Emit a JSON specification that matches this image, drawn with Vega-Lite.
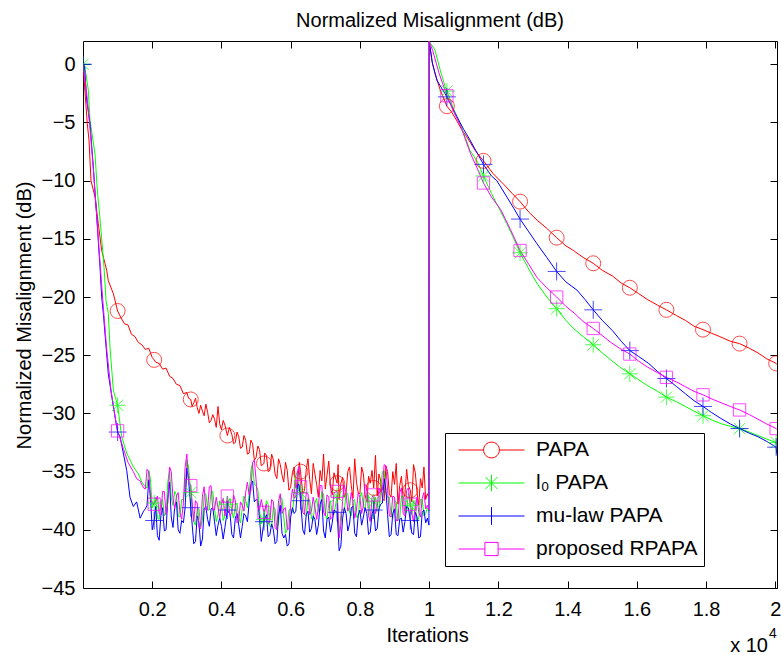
{
"$schema": "https://vega.github.io/schema/vega-lite/v6.json",
"autosize": {"type": "none"},
"padding": {"left": 83, "top": 41, "right": 4, "bottom": 67},
"width": 694,
"height": 547,
"background": "white",
"config": {
  "font": "Liberation Sans",
  "view": {"stroke": "black", "strokeWidth": 1},
  "axis": {"domain": false, "grid": false, "tickColor": "black", "tickSize": -7, "labelColor": "black", "titleColor": "black", "labelFont": "Liberation Sans", "titleFont": "Liberation Sans", "labelFontSize": 20, "titleFontSize": 20, "titleFontWeight": "normal"}
},
"title": {"text": "Normalized Misalignment (dB)", "fontSize": 20, "fontWeight": "normal", "font": "Liberation Sans", "color": "black", "anchor": "middle", "baseline": "alphabetic", "offset": 15, "dy": 21},
"datasets": {
"d": [
{"s":"PAPA","x":0,"y":0},{"s":"PAPA","x":124,"y":-5.1},{"s":"PAPA","x":173,"y":-6.5},{"s":"PAPA","x":231,"y":-10.0},{"s":"PAPA","x":347,"y":-11.4},{"s":"PAPA","x":442,"y":-13.7},{"s":"PAPA","x":540,"y":-16.0},{"s":"PAPA","x":685,"y":-17.7},{"s":"PAPA","x":731,"y":-18.6},{"s":"PAPA","x":876,"y":-19.7},
{"s":"PAPA","x":1000,"y":-21.2,"m":1},{"s":"PAPA","x":1100,"y":-21.8},{"s":"PAPA","x":1200,"y":-22.3},{"s":"PAPA","x":1300,"y":-22.4},{"s":"PAPA","x":1400,"y":-23.2},{"s":"PAPA","x":1500,"y":-23.4},{"s":"PAPA","x":1600,"y":-23.9},{"s":"PAPA","x":1700,"y":-24.1},{"s":"PAPA","x":1800,"y":-24.5},{"s":"PAPA","x":1900,"y":-24.4},{"s":"PAPA","x":2000,"y":-25.2},{"s":"PAPA","x":2057,"y":-25.4,"m":1},{"s":"PAPA","x":2100,"y":-25.6},{"s":"PAPA","x":2200,"y":-25.7},{"s":"PAPA","x":2300,"y":-26.2},{"s":"PAPA","x":2400,"y":-26.1},{"s":"PAPA","x":2500,"y":-26.8},{"s":"PAPA","x":2600,"y":-27.0},{"s":"PAPA","x":2700,"y":-27.5},{"s":"PAPA","x":2800,"y":-27.6},{"s":"PAPA","x":2900,"y":-28.3},
{"s":"PAPA","x":3000,"y":-28.2},{"s":"PAPA","x":3050,"y":-28.7},{"s":"PAPA","x":3114,"y":-28.8,"m":1},{"s":"PAPA","x":3150,"y":-29.4},{"s":"PAPA","x":3200,"y":-29.1},{"s":"PAPA","x":3250,"y":-28.7},{"s":"PAPA","x":3300,"y":-29.5},{"s":"PAPA","x":3350,"y":-30.0},{"s":"PAPA","x":3400,"y":-29.3},{"s":"PAPA","x":3450,"y":-29.8},{"s":"PAPA","x":3500,"y":-30.2},{"s":"PAPA","x":3550,"y":-29.2},{"s":"PAPA","x":3600,"y":-29.9},{"s":"PAPA","x":3650,"y":-30.8},{"s":"PAPA","x":3700,"y":-30.6},{"s":"PAPA","x":3750,"y":-30.1},{"s":"PAPA","x":3800,"y":-30.5},{"s":"PAPA","x":3850,"y":-31.2},{"s":"PAPA","x":3900,"y":-29.4},{"s":"PAPA","x":3950,"y":-30.9},{"s":"PAPA","x":4000,"y":-31.4},{"s":"PAPA","x":4050,"y":-30.6},{"s":"PAPA","x":4100,"y":-31.0},{"s":"PAPA","x":4171,"y":-31.9,"m":1},{"s":"PAPA","x":4230,"y":-31.2},{"s":"PAPA","x":4300,"y":-31.8},{"s":"PAPA","x":4350,"y":-32.6},{"s":"PAPA","x":4400,"y":-32.5},{"s":"PAPA","x":4450,"y":-31.6},{"s":"PAPA","x":4500,"y":-32.0},{"s":"PAPA","x":4550,"y":-33.0},{"s":"PAPA","x":4600,"y":-32.9},{"s":"PAPA","x":4650,"y":-31.9},{"s":"PAPA","x":4700,"y":-32.3},{"s":"PAPA","x":4750,"y":-33.5},{"s":"PAPA","x":4800,"y":-33.4},{"s":"PAPA","x":4850,"y":-32.3},{"s":"PAPA","x":4900,"y":-32.6},{"s":"PAPA","x":4950,"y":-34.0},
{"s":"PAPA","x":5000,"y":-33.8},{"s":"PAPA","x":5050,"y":-32.8},{"s":"PAPA","x":5100,"y":-33.1},{"s":"PAPA","x":5150,"y":-34.5},{"s":"PAPA","x":5228,"y":-34.3,"m":1},{"s":"PAPA","x":5250,"y":-33.4},{"s":"PAPA","x":5300,"y":-33.6},{"s":"PAPA","x":5350,"y":-35.0},{"s":"PAPA","x":5400,"y":-34.9},{"s":"PAPA","x":5450,"y":-33.5},{"s":"PAPA","x":5500,"y":-34.0},{"s":"PAPA","x":5550,"y":-35.2},{"s":"PAPA","x":5600,"y":-35.6},{"s":"PAPA","x":5650,"y":-33.9},{"s":"PAPA","x":5700,"y":-34.4},{"s":"PAPA","x":5750,"y":-35.3},{"s":"PAPA","x":5800,"y":-35.9},{"s":"PAPA","x":5850,"y":-34.2},{"s":"PAPA","x":5900,"y":-34.9},{"s":"PAPA","x":5950,"y":-36.6},{"s":"PAPA","x":6000,"y":-36.3},{"s":"PAPA","x":6050,"y":-35.1},{"s":"PAPA","x":6100,"y":-34.6},{"s":"PAPA","x":6150,"y":-36.4},{"s":"PAPA","x":6200,"y":-36.0},{"s":"PAPA","x":6250,"y":-34.2},{"s":"PAPA","x":6285,"y":-35.0,"m":1},{"s":"PAPA","x":6350,"y":-36.9},{"s":"PAPA","x":6400,"y":-36.6},{"s":"PAPA","x":6450,"y":-34.8},{"s":"PAPA","x":6500,"y":-33.9},{"s":"PAPA","x":6550,"y":-35.7},{"s":"PAPA","x":6600,"y":-36.9},{"s":"PAPA","x":6650,"y":-34.3},{"s":"PAPA","x":6700,"y":-35.2},{"s":"PAPA","x":6750,"y":-36.1},{"s":"PAPA","x":6800,"y":-37.2},{"s":"PAPA","x":6850,"y":-34.9},{"s":"PAPA","x":6900,"y":-35.8},{"s":"PAPA","x":6950,"y":-33.5},{"s":"PAPA","x":7000,"y":-36.5},{"s":"PAPA","x":7050,"y":-35.3},{"s":"PAPA","x":7100,"y":-34.1},{"s":"PAPA","x":7150,"y":-36.3},{"s":"PAPA","x":7200,"y":-37.0},{"s":"PAPA","x":7250,"y":-35.1},{"s":"PAPA","x":7342,"y":-36.0,"m":1},{"s":"PAPA","x":7370,"y":-34.4},{"s":"PAPA","x":7400,"y":-37.4},{"s":"PAPA","x":7450,"y":-36.0},{"s":"PAPA","x":7500,"y":-35.5},{"s":"PAPA","x":7550,"y":-37.2},{"s":"PAPA","x":7600,"y":-36.8},{"s":"PAPA","x":7650,"y":-35.0},{"s":"PAPA","x":7700,"y":-34.6},{"s":"PAPA","x":7750,"y":-36.2},{"s":"PAPA","x":7800,"y":-37.3},{"s":"PAPA","x":7850,"y":-33.9},{"s":"PAPA","x":7900,"y":-35.9},{"s":"PAPA","x":7950,"y":-36.8},{"s":"PAPA","x":8000,"y":-36.9},{"s":"PAPA","x":8050,"y":-34.6},{"s":"PAPA","x":8100,"y":-35.2},{"s":"PAPA","x":8150,"y":-37.0},{"s":"PAPA","x":8200,"y":-37.6},{"s":"PAPA","x":8250,"y":-35.4},{"s":"PAPA","x":8300,"y":-36.0},{"s":"PAPA","x":8350,"y":-34.9},{"s":"PAPA","x":8399,"y":-36.4,"m":1},{"s":"PAPA","x":8450,"y":-33.6},{"s":"PAPA","x":8500,"y":-37.1},{"s":"PAPA","x":8550,"y":-35.2},{"s":"PAPA","x":8600,"y":-35.8},{"s":"PAPA","x":8650,"y":-37.3},{"s":"PAPA","x":8700,"y":-37.5},{"s":"PAPA","x":8750,"y":-34.5},{"s":"PAPA","x":8800,"y":-35.0},{"s":"PAPA","x":8850,"y":-36.9},{"s":"PAPA","x":8900,"y":-37.2},{"s":"PAPA","x":8950,"y":-35.0},{"s":"PAPA","x":9000,"y":-36.1},{"s":"PAPA","x":9050,"y":-34.3},{"s":"PAPA","x":9100,"y":-37.8},{"s":"PAPA","x":9150,"y":-36.2},{"s":"PAPA","x":9200,"y":-35.4},{"s":"PAPA","x":9250,"y":-37.3},{"s":"PAPA","x":9300,"y":-37.0},{"s":"PAPA","x":9350,"y":-34.8},{"s":"PAPA","x":9400,"y":-36.2},{"s":"PAPA","x":9456,"y":-36.6,"m":1},{"s":"PAPA","x":9500,"y":-37.6},{"s":"PAPA","x":9550,"y":-34.4},{"s":"PAPA","x":9600,"y":-35.1},{"s":"PAPA","x":9650,"y":-36.8},{"s":"PAPA","x":9700,"y":-37.9},{"s":"PAPA","x":9750,"y":-35.6},{"s":"PAPA","x":9800,"y":-36.4},{"s":"PAPA","x":9850,"y":-34.6},{"s":"PAPA","x":9900,"y":-37.4},{"s":"PAPA","x":9950,"y":-36.9},{"s":"PAPA","x":9990,"y":-37.2},
{"s":"PAPA","x":10000,"y":2.0},{"s":"PAPA","x":10080,"y":0.3},{"s":"PAPA","x":10170,"y":-0.8},{"s":"PAPA","x":10320,"y":-2.2},{"s":"PAPA","x":10513,"y":-3.6,"m":1},{"s":"PAPA","x":10650,"y":-4.1},{"s":"PAPA","x":10790,"y":-4.8},{"s":"PAPA","x":10940,"y":-5.6},{"s":"PAPA","x":11080,"y":-6.2},{"s":"PAPA","x":11330,"y":-7.4},{"s":"PAPA","x":11570,"y":-8.3,"m":1},{"s":"PAPA","x":11850,"y":-9.4},{"s":"PAPA","x":12150,"y":-10.3},{"s":"PAPA","x":12400,"y":-11.1},{"s":"PAPA","x":12627,"y":-11.8,"m":1},{"s":"PAPA","x":12880,"y":-12.7},{"s":"PAPA","x":13120,"y":-13.4},{"s":"PAPA","x":13400,"y":-14.1},{"s":"PAPA","x":13684,"y":-14.9,"m":1},{"s":"PAPA","x":13950,"y":-15.6},{"s":"PAPA","x":14170,"y":-16.0},{"s":"PAPA","x":14450,"y":-16.6},{"s":"PAPA","x":14741,"y":-17.1,"m":1},{"s":"PAPA","x":15000,"y":-17.7},{"s":"PAPA","x":15300,"y":-18.2},{"s":"PAPA","x":15550,"y":-18.8},{"s":"PAPA","x":15798,"y":-19.2,"m":1},{"s":"PAPA","x":16050,"y":-19.7},{"s":"PAPA","x":16300,"y":-20.2},{"s":"PAPA","x":16600,"y":-20.7},{"s":"PAPA","x":16855,"y":-21.1,"m":1},{"s":"PAPA","x":17150,"y":-21.6},{"s":"PAPA","x":17400,"y":-22.0},{"s":"PAPA","x":17650,"y":-22.5},{"s":"PAPA","x":17912,"y":-22.8,"m":1},{"s":"PAPA","x":18150,"y":-23.1},{"s":"PAPA","x":18400,"y":-23.4},{"s":"PAPA","x":18700,"y":-23.8},{"s":"PAPA","x":18969,"y":-24.0,"m":1},{"s":"PAPA","x":19250,"y":-24.4},{"s":"PAPA","x":19500,"y":-24.8},{"s":"PAPA","x":19750,"y":-25.3},{"s":"PAPA","x":20026,"y":-25.7,"m":1},{"s":"PAPA","x":20050,"y":-25.8},

{"s":"l₀ PAPA","x":0,"y":0,"m":1},{"s":"l₀ PAPA","x":40,"y":0},{"s":"l₀ PAPA","x":153,"y":-2.2},{"s":"l₀ PAPA","x":202,"y":-4.8},{"s":"l₀ PAPA","x":347,"y":-7.7},{"s":"l₀ PAPA","x":413,"y":-10.8},{"s":"l₀ PAPA","x":512,"y":-14.0},{"s":"l₀ PAPA","x":607,"y":-17.4},{"s":"l₀ PAPA","x":665,"y":-20.3},{"s":"l₀ PAPA","x":731,"y":-21.4},{"s":"l₀ PAPA","x":780,"y":-24.3},{"s":"l₀ PAPA","x":876,"y":-28.0},{"s":"l₀ PAPA","x":1000,"y":-29.3,"m":1},{"s":"l₀ PAPA","x":1118,"y":-32.0},{"s":"l₀ PAPA","x":1263,"y":-33.4},{"s":"l₀ PAPA","x":1454,"y":-34.6},{"s":"l₀ PAPA","x":1600,"y":-35.2},{"s":"l₀ PAPA","x":1700,"y":-35.9},
{"s":"l₀ PAPA","x":1800,"y":-36.3},{"s":"l₀ PAPA","x":1900,"y":-34.9},{"s":"l₀ PAPA","x":2000,"y":-38.1},{"s":"l₀ PAPA","x":2057,"y":-37.7,"m":1},{"s":"l₀ PAPA","x":2100,"y":-37.2},{"s":"l₀ PAPA","x":2200,"y":-39.1},{"s":"l₀ PAPA","x":2300,"y":-37.4},{"s":"l₀ PAPA","x":2400,"y":-38.5},{"s":"l₀ PAPA","x":2500,"y":-34.9},{"s":"l₀ PAPA","x":2600,"y":-37.9},{"s":"l₀ PAPA","x":2700,"y":-37.0},{"s":"l₀ PAPA","x":2800,"y":-38.9},{"s":"l₀ PAPA","x":2900,"y":-37.4},{"s":"l₀ PAPA","x":3000,"y":-34.0},{"s":"l₀ PAPA","x":3114,"y":-36.8,"m":1},{"s":"l₀ PAPA","x":3200,"y":-39.3},{"s":"l₀ PAPA","x":3300,"y":-38.2},{"s":"l₀ PAPA","x":3400,"y":-39.7},{"s":"l₀ PAPA","x":3500,"y":-37.0},{"s":"l₀ PAPA","x":3600,"y":-38.3},{"s":"l₀ PAPA","x":3700,"y":-36.7},{"s":"l₀ PAPA","x":3800,"y":-38.2},{"s":"l₀ PAPA","x":3900,"y":-38.7},{"s":"l₀ PAPA","x":4000,"y":-37.9},{"s":"l₀ PAPA","x":4100,"y":-38.8},{"s":"l₀ PAPA","x":4171,"y":-37.8,"m":1},{"s":"l₀ PAPA","x":4300,"y":-38.4},{"s":"l₀ PAPA","x":4400,"y":-37.9},{"s":"l₀ PAPA","x":4500,"y":-39.0},{"s":"l₀ PAPA","x":4600,"y":-38.2},{"s":"l₀ PAPA","x":4700,"y":-37.5},{"s":"l₀ PAPA","x":4800,"y":-37.0},{"s":"l₀ PAPA","x":4900,"y":-34.3},{"s":"l₀ PAPA","x":5000,"y":-36.2},{"s":"l₀ PAPA","x":5100,"y":-38.3},{"s":"l₀ PAPA","x":5228,"y":-39.1,"m":1},{"s":"l₀ PAPA","x":5300,"y":-37.5},{"s":"l₀ PAPA","x":5400,"y":-39.7},{"s":"l₀ PAPA","x":5500,"y":-38.0},{"s":"l₀ PAPA","x":5600,"y":-39.9},{"s":"l₀ PAPA","x":5700,"y":-37.2},{"s":"l₀ PAPA","x":5800,"y":-38.9},{"s":"l₀ PAPA","x":5900,"y":-40.0},{"s":"l₀ PAPA","x":6000,"y":-38.2},{"s":"l₀ PAPA","x":6100,"y":-37.1},{"s":"l₀ PAPA","x":6200,"y":-35.0},{"s":"l₀ PAPA","x":6285,"y":-36.8,"m":1},{"s":"l₀ PAPA","x":6400,"y":-38.7},{"s":"l₀ PAPA","x":6500,"y":-37.3},{"s":"l₀ PAPA","x":6600,"y":-39.0},{"s":"l₀ PAPA","x":6700,"y":-37.7},{"s":"l₀ PAPA","x":6800,"y":-38.4},{"s":"l₀ PAPA","x":6900,"y":-36.7},{"s":"l₀ PAPA","x":7000,"y":-38.7},{"s":"l₀ PAPA","x":7100,"y":-37.8},{"s":"l₀ PAPA","x":7200,"y":-38.7},{"s":"l₀ PAPA","x":7342,"y":-37.1,"m":1},{"s":"l₀ PAPA","x":7400,"y":-40.6},{"s":"l₀ PAPA","x":7500,"y":-38.2},{"s":"l₀ PAPA","x":7600,"y":-36.9},{"s":"l₀ PAPA","x":7700,"y":-38.5},{"s":"l₀ PAPA","x":7800,"y":-37.5},{"s":"l₀ PAPA","x":7900,"y":-38.9},{"s":"l₀ PAPA","x":8000,"y":-37.2},{"s":"l₀ PAPA","x":8100,"y":-38.0},{"s":"l₀ PAPA","x":8200,"y":-36.8},{"s":"l₀ PAPA","x":8300,"y":-39.0},{"s":"l₀ PAPA","x":8399,"y":-37.6,"m":1},{"s":"l₀ PAPA","x":8500,"y":-38.4},{"s":"l₀ PAPA","x":8600,"y":-36.6},{"s":"l₀ PAPA","x":8700,"y":-34.9},{"s":"l₀ PAPA","x":8800,"y":-37.2},{"s":"l₀ PAPA","x":8900,"y":-38.8},{"s":"l₀ PAPA","x":9000,"y":-37.5},{"s":"l₀ PAPA","x":9100,"y":-39.2},{"s":"l₀ PAPA","x":9200,"y":-37.1},{"s":"l₀ PAPA","x":9300,"y":-38.6},{"s":"l₀ PAPA","x":9400,"y":-36.8},{"s":"l₀ PAPA","x":9456,"y":-37.9,"m":1},{"s":"l₀ PAPA","x":9500,"y":-38.7},{"s":"l₀ PAPA","x":9600,"y":-37.9},{"s":"l₀ PAPA","x":9700,"y":-39.0},{"s":"l₀ PAPA","x":9800,"y":-37.4},{"s":"l₀ PAPA","x":9900,"y":-38.6},{"s":"l₀ PAPA","x":9950,"y":-38.1},{"s":"l₀ PAPA","x":9995,"y":-38.4},
{"s":"l₀ PAPA","x":10000,"y":2.0},{"s":"l₀ PAPA","x":10170,"y":1.2},{"s":"l₀ PAPA","x":10320,"y":-0.5},{"s":"l₀ PAPA","x":10460,"y":-1.9},{"s":"l₀ PAPA","x":10513,"y":-2.3,"m":1},{"s":"l₀ PAPA","x":10700,"y":-3.8},{"s":"l₀ PAPA","x":10900,"y":-5.1},{"s":"l₀ PAPA","x":11180,"y":-7.4},{"s":"l₀ PAPA","x":11400,"y":-8.4},{"s":"l₀ PAPA","x":11570,"y":-9.6,"m":1},{"s":"l₀ PAPA","x":11800,"y":-11.1},{"s":"l₀ PAPA","x":11955,"y":-12.0},{"s":"l₀ PAPA","x":12245,"y":-13.7},{"s":"l₀ PAPA","x":12450,"y":-15.0},{"s":"l₀ PAPA","x":12627,"y":-16.2,"m":1},{"s":"l₀ PAPA","x":12880,"y":-17.6},{"s":"l₀ PAPA","x":13110,"y":-18.8},{"s":"l₀ PAPA","x":13400,"y":-20.0},{"s":"l₀ PAPA","x":13684,"y":-21.0,"m":1},{"s":"l₀ PAPA","x":13950,"y":-22.0},{"s":"l₀ PAPA","x":14170,"y":-22.7},{"s":"l₀ PAPA","x":14450,"y":-23.4},{"s":"l₀ PAPA","x":14741,"y":-24.1,"m":1},{"s":"l₀ PAPA","x":15000,"y":-24.8},{"s":"l₀ PAPA","x":15250,"y":-25.4},{"s":"l₀ PAPA","x":15500,"y":-26.0},{"s":"l₀ PAPA","x":15798,"y":-26.6,"m":1},{"s":"l₀ PAPA","x":16050,"y":-27.1},{"s":"l₀ PAPA","x":16300,"y":-27.6},{"s":"l₀ PAPA","x":16600,"y":-28.1},{"s":"l₀ PAPA","x":16855,"y":-28.6,"m":1},{"s":"l₀ PAPA","x":17150,"y":-29.0},{"s":"l₀ PAPA","x":17400,"y":-29.4},{"s":"l₀ PAPA","x":17650,"y":-29.8},{"s":"l₀ PAPA","x":17912,"y":-30.2,"m":1},{"s":"l₀ PAPA","x":18200,"y":-30.6},{"s":"l₀ PAPA","x":18450,"y":-30.9},{"s":"l₀ PAPA","x":18700,"y":-31.1},{"s":"l₀ PAPA","x":18969,"y":-31.3,"m":1},{"s":"l₀ PAPA","x":19250,"y":-31.6},{"s":"l₀ PAPA","x":19500,"y":-31.9},{"s":"l₀ PAPA","x":19750,"y":-32.2},{"s":"l₀ PAPA","x":20026,"y":-32.5,"m":1},{"s":"l₀ PAPA","x":20050,"y":-32.6},

{"s":"mu-law PAPA","x":0,"y":0,"m":1},{"s":"mu-law PAPA","x":40,"y":0},{"s":"mu-law PAPA","x":107,"y":-3.1},{"s":"mu-law PAPA","x":202,"y":-5.1},{"s":"mu-law PAPA","x":298,"y":-8.8},{"s":"mu-law PAPA","x":396,"y":-13.1},{"s":"mu-law PAPA","x":491,"y":-17.4},{"s":"mu-law PAPA","x":540,"y":-20.0},{"s":"mu-law PAPA","x":587,"y":-21.4},{"s":"mu-law PAPA","x":731,"y":-26.6},{"s":"mu-law PAPA","x":876,"y":-29.4},{"s":"mu-law PAPA","x":1000,"y":-31.6,"m":1},{"s":"mu-law PAPA","x":1069,"y":-32.0},{"s":"mu-law PAPA","x":1165,"y":-33.4},{"s":"mu-law PAPA","x":1263,"y":-34.9},{"s":"mu-law PAPA","x":1358,"y":-37.2},{"s":"mu-law PAPA","x":1454,"y":-38.0},{"s":"mu-law PAPA","x":1550,"y":-37.6},{"s":"mu-law PAPA","x":1650,"y":-39.0},{"s":"mu-law PAPA","x":1750,"y":-38.4},
{"s":"mu-law PAPA","x":1800,"y":-38.2},{"s":"mu-law PAPA","x":1900,"y":-35.7},{"s":"mu-law PAPA","x":2000,"y":-40.0},{"s":"mu-law PAPA","x":2057,"y":-39.2,"m":1},{"s":"mu-law PAPA","x":2100,"y":-38.0},{"s":"mu-law PAPA","x":2200,"y":-40.9},{"s":"mu-law PAPA","x":2300,"y":-38.1},{"s":"mu-law PAPA","x":2400,"y":-40.0},{"s":"mu-law PAPA","x":2500,"y":-35.9},{"s":"mu-law PAPA","x":2600,"y":-39.8},{"s":"mu-law PAPA","x":2700,"y":-37.6},{"s":"mu-law PAPA","x":2800,"y":-40.3},{"s":"mu-law PAPA","x":2900,"y":-39.4},{"s":"mu-law PAPA","x":3000,"y":-34.7},{"s":"mu-law PAPA","x":3114,"y":-38.1,"m":1},{"s":"mu-law PAPA","x":3200,"y":-41.2},{"s":"mu-law PAPA","x":3300,"y":-38.8},{"s":"mu-law PAPA","x":3400,"y":-41.4},{"s":"mu-law PAPA","x":3500,"y":-38.2},{"s":"mu-law PAPA","x":3600,"y":-39.1},{"s":"mu-law PAPA","x":3700,"y":-38.2},{"s":"mu-law PAPA","x":3800,"y":-39.3},{"s":"mu-law PAPA","x":3900,"y":-39.6},{"s":"mu-law PAPA","x":4000,"y":-39.7},{"s":"mu-law PAPA","x":4100,"y":-39.8},{"s":"mu-law PAPA","x":4171,"y":-38.3,"m":1},{"s":"mu-law PAPA","x":4300,"y":-40.4},{"s":"mu-law PAPA","x":4400,"y":-39.0},{"s":"mu-law PAPA","x":4500,"y":-39.6},{"s":"mu-law PAPA","x":4600,"y":-39.7},{"s":"mu-law PAPA","x":4700,"y":-38.8},{"s":"mu-law PAPA","x":4800,"y":-37.7},{"s":"mu-law PAPA","x":4900,"y":-35.8},{"s":"mu-law PAPA","x":5000,"y":-37.4},{"s":"mu-law PAPA","x":5100,"y":-39.0},{"s":"mu-law PAPA","x":5150,"y":-41.0},{"s":"mu-law PAPA","x":5228,"y":-39.3,"m":1},{"s":"mu-law PAPA","x":5300,"y":-38.7},{"s":"mu-law PAPA","x":5400,"y":-40.4},{"s":"mu-law PAPA","x":5500,"y":-40.0},{"s":"mu-law PAPA","x":5600,"y":-41.0},{"s":"mu-law PAPA","x":5700,"y":-37.9},{"s":"mu-law PAPA","x":5800,"y":-40.7},{"s":"mu-law PAPA","x":5900,"y":-41.4},{"s":"mu-law PAPA","x":6000,"y":-38.9},{"s":"mu-law PAPA","x":6100,"y":-38.6},{"s":"mu-law PAPA","x":6200,"y":-36.1},{"s":"mu-law PAPA","x":6285,"y":-37.5,"m":1},{"s":"mu-law PAPA","x":6400,"y":-40.4},{"s":"mu-law PAPA","x":6500,"y":-38.4},{"s":"mu-law PAPA","x":6600,"y":-39.9},{"s":"mu-law PAPA","x":6700,"y":-39.1},{"s":"mu-law PAPA","x":6800,"y":-39.6},{"s":"mu-law PAPA","x":6900,"y":-37.4},{"s":"mu-law PAPA","x":7000,"y":-40.7},{"s":"mu-law PAPA","x":7100,"y":-38.9},{"s":"mu-law PAPA","x":7200,"y":-39.4},{"s":"mu-law PAPA","x":7342,"y":-38.5,"m":1},{"s":"mu-law PAPA","x":7400,"y":-41.8},{"s":"mu-law PAPA","x":7500,"y":-39.0},{"s":"mu-law PAPA","x":7600,"y":-38.6},{"s":"mu-law PAPA","x":7700,"y":-39.5},{"s":"mu-law PAPA","x":7800,"y":-38.0},{"s":"mu-law PAPA","x":7900,"y":-40.6},{"s":"mu-law PAPA","x":8000,"y":-38.3},{"s":"mu-law PAPA","x":8100,"y":-38.9},{"s":"mu-law PAPA","x":8200,"y":-38.6},{"s":"mu-law PAPA","x":8300,"y":-40.2},{"s":"mu-law PAPA","x":8399,"y":-38.3,"m":1},{"s":"mu-law PAPA","x":8500,"y":-39.9},{"s":"mu-law PAPA","x":8600,"y":-37.8},{"s":"mu-law PAPA","x":8700,"y":-35.6},{"s":"mu-law PAPA","x":8800,"y":-38.7},{"s":"mu-law PAPA","x":8900,"y":-40.4},{"s":"mu-law PAPA","x":9000,"y":-38.2},{"s":"mu-law PAPA","x":9100,"y":-40.5},{"s":"mu-law PAPA","x":9200,"y":-39.0},{"s":"mu-law PAPA","x":9300,"y":-39.3},{"s":"mu-law PAPA","x":9400,"y":-38.1},{"s":"mu-law PAPA","x":9456,"y":-39.2,"m":1},{"s":"mu-law PAPA","x":9500,"y":-40.3},{"s":"mu-law PAPA","x":9600,"y":-38.5},{"s":"mu-law PAPA","x":9700,"y":-40.7},{"s":"mu-law PAPA","x":9800,"y":-38.5},{"s":"mu-law PAPA","x":9900,"y":-39.4},{"s":"mu-law PAPA","x":9950,"y":-39.0},{"s":"mu-law PAPA","x":9995,"y":-39.6},
{"s":"mu-law PAPA","x":10000,"y":2.0},{"s":"mu-law PAPA","x":10100,"y":0.0},{"s":"mu-law PAPA","x":10230,"y":-1.4},{"s":"mu-law PAPA","x":10513,"y":-2.8,"m":1},{"s":"mu-law PAPA","x":10800,"y":-4.5},{"s":"mu-law PAPA","x":11000,"y":-5.6},{"s":"mu-law PAPA","x":11180,"y":-6.5},{"s":"mu-law PAPA","x":11400,"y":-7.7},{"s":"mu-law PAPA","x":11570,"y":-8.6,"m":1},{"s":"mu-law PAPA","x":11800,"y":-9.6},{"s":"mu-law PAPA","x":11955,"y":-10.0},{"s":"mu-law PAPA","x":12245,"y":-11.4},{"s":"mu-law PAPA","x":12450,"y":-12.4},{"s":"mu-law PAPA","x":12627,"y":-13.3,"m":1},{"s":"mu-law PAPA","x":12880,"y":-14.4},{"s":"mu-law PAPA","x":13110,"y":-15.4},{"s":"mu-law PAPA","x":13400,"y":-16.6},{"s":"mu-law PAPA","x":13684,"y":-17.8,"m":1},{"s":"mu-law PAPA","x":13950,"y":-18.7},{"s":"mu-law PAPA","x":14270,"y":-19.4},{"s":"mu-law PAPA","x":14500,"y":-20.2},{"s":"mu-law PAPA","x":14741,"y":-21.1,"m":1},{"s":"mu-law PAPA","x":15000,"y":-22.0},{"s":"mu-law PAPA","x":15300,"y":-22.9},{"s":"mu-law PAPA","x":15550,"y":-23.8},{"s":"mu-law PAPA","x":15798,"y":-24.6,"m":1},{"s":"mu-law PAPA","x":16050,"y":-25.1},{"s":"mu-law PAPA","x":16340,"y":-25.7},{"s":"mu-law PAPA","x":16600,"y":-26.4},{"s":"mu-law PAPA","x":16855,"y":-27.0,"m":1},{"s":"mu-law PAPA","x":17150,"y":-27.7},{"s":"mu-law PAPA","x":17400,"y":-28.3},{"s":"mu-law PAPA","x":17650,"y":-28.9},{"s":"mu-law PAPA","x":17912,"y":-29.4,"m":1},{"s":"mu-law PAPA","x":18150,"y":-29.9},{"s":"mu-law PAPA","x":18410,"y":-30.4},{"s":"mu-law PAPA","x":18700,"y":-30.9},{"s":"mu-law PAPA","x":18969,"y":-31.3,"m":1},{"s":"mu-law PAPA","x":19250,"y":-31.7},{"s":"mu-law PAPA","x":19500,"y":-32.0},{"s":"mu-law PAPA","x":19750,"y":-32.4},{"s":"mu-law PAPA","x":20026,"y":-32.9,"m":1},{"s":"mu-law PAPA","x":20050,"y":-33.5},

{"s":"proposed RPAPA","x":0,"y":0},{"s":"proposed RPAPA","x":107,"y":-2.5},{"s":"proposed RPAPA","x":202,"y":-5.5},{"s":"proposed RPAPA","x":298,"y":-9.0},{"s":"proposed RPAPA","x":396,"y":-13.0},{"s":"proposed RPAPA","x":491,"y":-17.0},{"s":"proposed RPAPA","x":578,"y":-20.5},{"s":"proposed RPAPA","x":685,"y":-24.5},{"s":"proposed RPAPA","x":809,"y":-28.0},{"s":"proposed RPAPA","x":954,"y":-30.8},{"s":"proposed RPAPA","x":1000,"y":-31.5,"m":1},{"s":"proposed RPAPA","x":1165,"y":-33.0},{"s":"proposed RPAPA","x":1300,"y":-34.2},{"s":"proposed RPAPA","x":1454,"y":-35.0},{"s":"proposed RPAPA","x":1550,"y":-35.6},{"s":"proposed RPAPA","x":1647,"y":-35.8},{"s":"proposed RPAPA","x":1750,"y":-36.4},
{"s":"proposed RPAPA","x":1800,"y":-36.5},{"s":"proposed RPAPA","x":1900,"y":-35.0},{"s":"proposed RPAPA","x":2000,"y":-37.7},{"s":"proposed RPAPA","x":2057,"y":-37.8,"m":1},{"s":"proposed RPAPA","x":2100,"y":-37.5},{"s":"proposed RPAPA","x":2200,"y":-38.6},{"s":"proposed RPAPA","x":2300,"y":-36.7},{"s":"proposed RPAPA","x":2400,"y":-38.7},{"s":"proposed RPAPA","x":2500,"y":-34.6},{"s":"proposed RPAPA","x":2600,"y":-37.3},{"s":"proposed RPAPA","x":2700,"y":-37.1},{"s":"proposed RPAPA","x":2800,"y":-38.5},{"s":"proposed RPAPA","x":2900,"y":-37.7},{"s":"proposed RPAPA","x":3000,"y":-33.5},{"s":"proposed RPAPA","x":3114,"y":-36.2,"m":1},{"s":"proposed RPAPA","x":3200,"y":-39.3},{"s":"proposed RPAPA","x":3300,"y":-37.7},{"s":"proposed RPAPA","x":3400,"y":-39.9},{"s":"proposed RPAPA","x":3500,"y":-36.3},{"s":"proposed RPAPA","x":3600,"y":-38.3},{"s":"proposed RPAPA","x":3700,"y":-36.2},{"s":"proposed RPAPA","x":3800,"y":-38.3},{"s":"proposed RPAPA","x":3900,"y":-38.1},{"s":"proposed RPAPA","x":4000,"y":-37.8},{"s":"proposed RPAPA","x":4100,"y":-38.8},{"s":"proposed RPAPA","x":4171,"y":-37.1,"m":1},{"s":"proposed RPAPA","x":4300,"y":-38.5},{"s":"proposed RPAPA","x":4400,"y":-37.5},{"s":"proposed RPAPA","x":4500,"y":-39.2},{"s":"proposed RPAPA","x":4600,"y":-37.9},{"s":"proposed RPAPA","x":4700,"y":-36.8},{"s":"proposed RPAPA","x":4800,"y":-37.0},{"s":"proposed RPAPA","x":4900,"y":-34.2},{"s":"proposed RPAPA","x":5000,"y":-35.7},{"s":"proposed RPAPA","x":5100,"y":-38.3},{"s":"proposed RPAPA","x":5228,"y":-38.5,"m":1},{"s":"proposed RPAPA","x":5300,"y":-37.8},{"s":"proposed RPAPA","x":5400,"y":-39.2},{"s":"proposed RPAPA","x":5500,"y":-37.6},{"s":"proposed RPAPA","x":5600,"y":-40.0},{"s":"proposed RPAPA","x":5700,"y":-36.9},{"s":"proposed RPAPA","x":5800,"y":-38.2},{"s":"proposed RPAPA","x":5900,"y":-40.0},{"s":"proposed RPAPA","x":6000,"y":-37.7},{"s":"proposed RPAPA","x":6100,"y":-37.3},{"s":"proposed RPAPA","x":6200,"y":-34.9},{"s":"proposed RPAPA","x":6285,"y":-36.3,"m":1},{"s":"proposed RPAPA","x":6400,"y":-38.7},{"s":"proposed RPAPA","x":6500,"y":-36.9},{"s":"proposed RPAPA","x":6600,"y":-38.4},{"s":"proposed RPAPA","x":6700,"y":-38.0},{"s":"proposed RPAPA","x":6800,"y":-38.1},{"s":"proposed RPAPA","x":6900,"y":-36.2},{"s":"proposed RPAPA","x":7000,"y":-38.8},{"s":"proposed RPAPA","x":7100,"y":-37.2},{"s":"proposed RPAPA","x":7200,"y":-38.9},{"s":"proposed RPAPA","x":7342,"y":-36.7,"m":1},{"s":"proposed RPAPA","x":7400,"y":-40.7},{"s":"proposed RPAPA","x":7500,"y":-37.5},{"s":"proposed RPAPA","x":7600,"y":-36.8},{"s":"proposed RPAPA","x":7700,"y":-38.0},{"s":"proposed RPAPA","x":7800,"y":-37.6},{"s":"proposed RPAPA","x":7900,"y":-38.3},{"s":"proposed RPAPA","x":8000,"y":-37.2},{"s":"proposed RPAPA","x":8100,"y":-37.9},{"s":"proposed RPAPA","x":8200,"y":-36.3},{"s":"proposed RPAPA","x":8300,"y":-39.3},{"s":"proposed RPAPA","x":8399,"y":-37.0,"m":1},{"s":"proposed RPAPA","x":8500,"y":-38.1},{"s":"proposed RPAPA","x":8600,"y":-36.7},{"s":"proposed RPAPA","x":8700,"y":-34.4},{"s":"proposed RPAPA","x":8800,"y":-36.6},{"s":"proposed RPAPA","x":8900,"y":-38.9},{"s":"proposed RPAPA","x":9000,"y":-37.2},{"s":"proposed RPAPA","x":9100,"y":-39.2},{"s":"proposed RPAPA","x":9200,"y":-36.4},{"s":"proposed RPAPA","x":9300,"y":-38.8},{"s":"proposed RPAPA","x":9400,"y":-36.4},{"s":"proposed RPAPA","x":9456,"y":-37.8,"m":1},{"s":"proposed RPAPA","x":9500,"y":-38.6},{"s":"proposed RPAPA","x":9600,"y":-37.9},{"s":"proposed RPAPA","x":9700,"y":-38.5},{"s":"proposed RPAPA","x":9800,"y":-37.3},{"s":"proposed RPAPA","x":9900,"y":-38.2},{"s":"proposed RPAPA","x":9950,"y":-37.9},{"s":"proposed RPAPA","x":9995,"y":-38.3},
{"s":"proposed RPAPA","x":10000,"y":2.0},{"s":"proposed RPAPA","x":10100,"y":1.2},{"s":"proposed RPAPA","x":10290,"y":-0.8},{"s":"proposed RPAPA","x":10513,"y":-2.7,"m":1},{"s":"proposed RPAPA","x":10700,"y":-4.0},{"s":"proposed RPAPA","x":10920,"y":-5.4},{"s":"proposed RPAPA","x":11200,"y":-7.7},{"s":"proposed RPAPA","x":11400,"y":-9.0},{"s":"proposed RPAPA","x":11570,"y":-10.2,"m":1},{"s":"proposed RPAPA","x":11800,"y":-11.4},{"s":"proposed RPAPA","x":12070,"y":-12.5},{"s":"proposed RPAPA","x":12350,"y":-14.2},{"s":"proposed RPAPA","x":12627,"y":-16.0,"m":1},{"s":"proposed RPAPA","x":12880,"y":-17.2},{"s":"proposed RPAPA","x":13110,"y":-18.3},{"s":"proposed RPAPA","x":13400,"y":-19.2},{"s":"proposed RPAPA","x":13684,"y":-20.0,"m":1},{"s":"proposed RPAPA","x":13950,"y":-20.8},{"s":"proposed RPAPA","x":14200,"y":-21.4},{"s":"proposed RPAPA","x":14450,"y":-22.1},{"s":"proposed RPAPA","x":14741,"y":-22.7,"m":1},{"s":"proposed RPAPA","x":15000,"y":-23.3},{"s":"proposed RPAPA","x":15250,"y":-23.9},{"s":"proposed RPAPA","x":15500,"y":-24.4},{"s":"proposed RPAPA","x":15798,"y":-24.9,"m":1},{"s":"proposed RPAPA","x":16050,"y":-25.5},{"s":"proposed RPAPA","x":16300,"y":-26.0},{"s":"proposed RPAPA","x":16600,"y":-26.5},{"s":"proposed RPAPA","x":16855,"y":-26.9,"m":1},{"s":"proposed RPAPA","x":17150,"y":-27.3},{"s":"proposed RPAPA","x":17400,"y":-27.7},{"s":"proposed RPAPA","x":17650,"y":-28.1},{"s":"proposed RPAPA","x":17912,"y":-28.4,"m":1},{"s":"proposed RPAPA","x":18200,"y":-28.8},{"s":"proposed RPAPA","x":18450,"y":-29.1},{"s":"proposed RPAPA","x":18700,"y":-29.4},{"s":"proposed RPAPA","x":18969,"y":-29.7,"m":1},{"s":"proposed RPAPA","x":19250,"y":-30.1},{"s":"proposed RPAPA","x":19500,"y":-30.5},{"s":"proposed RPAPA","x":19750,"y":-30.9},{"s":"proposed RPAPA","x":20026,"y":-31.3,"m":1},{"s":"proposed RPAPA","x":20050,"y":-31.4},

{"s":"l₀ PAPA","x":1850,"y":-36.4},{"s":"l₀ PAPA","x":1950,"y":-35.7},{"s":"l₀ PAPA","x":2150,"y":-39.0},{"s":"l₀ PAPA","x":2250,"y":-37.5},{"s":"l₀ PAPA","x":2350,"y":-38.8},{"s":"l₀ PAPA","x":2450,"y":-35.9},{"s":"l₀ PAPA","x":2550,"y":-37.2},{"s":"l₀ PAPA","x":2650,"y":-36.7},{"s":"l₀ PAPA","x":2750,"y":-38.8},{"s":"l₀ PAPA","x":2850,"y":-37.4},{"s":"l₀ PAPA","x":2950,"y":-36.5},{"s":"l₀ PAPA","x":3050,"y":-34.6},{"s":"l₀ PAPA","x":3250,"y":-39.6},{"s":"l₀ PAPA","x":3350,"y":-38.2},{"s":"l₀ PAPA","x":3450,"y":-39.2},{"s":"l₀ PAPA","x":3550,"y":-36.9},{"s":"l₀ PAPA","x":3650,"y":-38.3},{"s":"l₀ PAPA","x":3750,"y":-36.7},{"s":"l₀ PAPA","x":3850,"y":-39.3},{"s":"l₀ PAPA","x":3950,"y":-37.5},{"s":"l₀ PAPA","x":4050,"y":-39.2},{"s":"l₀ PAPA","x":4250,"y":-37.3},{"s":"l₀ PAPA","x":4350,"y":-39.0},{"s":"l₀ PAPA","x":4450,"y":-37.7},{"s":"l₀ PAPA","x":4550,"y":-39.4},{"s":"l₀ PAPA","x":4650,"y":-37.1},{"s":"l₀ PAPA","x":4750,"y":-38.1},{"s":"l₀ PAPA","x":4850,"y":-34.9},{"s":"l₀ PAPA","x":4950,"y":-36.1},{"s":"l₀ PAPA","x":5050,"y":-36.5},{"s":"l₀ PAPA","x":5150,"y":-39.5},{"s":"l₀ PAPA","x":5350,"y":-37.8},{"s":"l₀ PAPA","x":5450,"y":-39.7},{"s":"l₀ PAPA","x":5550,"y":-38.2},{"s":"l₀ PAPA","x":5650,"y":-39.4},{"s":"l₀ PAPA","x":5750,"y":-37.3},{"s":"l₀ PAPA","x":5850,"y":-40.3},{"s":"l₀ PAPA","x":5950,"y":-38.3},{"s":"l₀ PAPA","x":6050,"y":-38.5},{"s":"l₀ PAPA","x":6150,"y":-35.3},{"s":"l₀ PAPA","x":6240,"y":-36.7},{"s":"l₀ PAPA","x":6350,"y":-37.0},{"s":"l₀ PAPA","x":6450,"y":-38.8},{"s":"l₀ PAPA","x":6550,"y":-37.4},{"s":"l₀ PAPA","x":6650,"y":-39.2},{"s":"l₀ PAPA","x":6750,"y":-37.3},{"s":"l₀ PAPA","x":6850,"y":-38.4},{"s":"l₀ PAPA","x":6950,"y":-36.9},{"s":"l₀ PAPA","x":7050,"y":-39.1},{"s":"l₀ PAPA","x":7150,"y":-37.5},{"s":"l₀ PAPA","x":7250,"y":-38.7},{"s":"l₀ PAPA","x":7450,"y":-38.6},{"s":"l₀ PAPA","x":7550,"y":-38.4},{"s":"l₀ PAPA","x":7650,"y":-36.9},{"s":"l₀ PAPA","x":7750,"y":-38.8},{"s":"l₀ PAPA","x":7850,"y":-37.4},{"s":"l₀ PAPA","x":7950,"y":-38.9},{"s":"l₀ PAPA","x":8050,"y":-36.8},{"s":"l₀ PAPA","x":8150,"y":-38.2},{"s":"l₀ PAPA","x":8250,"y":-37.1},{"s":"l₀ PAPA","x":8350,"y":-39.1},{"s":"l₀ PAPA","x":8450,"y":-37.2},{"s":"l₀ PAPA","x":8550,"y":-38.3},{"s":"l₀ PAPA","x":8650,"y":-35.0},{"s":"l₀ PAPA","x":8750,"y":-36.9},{"s":"l₀ PAPA","x":8850,"y":-37.2},{"s":"l₀ PAPA","x":8950,"y":-39.0},{"s":"l₀ PAPA","x":9050,"y":-37.6},{"s":"l₀ PAPA","x":9150,"y":-39.0},{"s":"l₀ PAPA","x":9250,"y":-37.1},{"s":"l₀ PAPA","x":9350,"y":-38.5},{"s":"l₀ PAPA","x":9550,"y":-37.5},{"s":"l₀ PAPA","x":9650,"y":-39.3},{"s":"l₀ PAPA","x":9750,"y":-37.4},{"s":"l₀ PAPA","x":9850,"y":-38.8},

{"s":"mu-law PAPA","x":1850,"y":-37.9},{"s":"mu-law PAPA","x":1950,"y":-37.2},{"s":"mu-law PAPA","x":2150,"y":-40.5},{"s":"mu-law PAPA","x":2250,"y":-38.8},{"s":"mu-law PAPA","x":2350,"y":-40.1},{"s":"mu-law PAPA","x":2450,"y":-37.3},{"s":"mu-law PAPA","x":2550,"y":-38.9},{"s":"mu-law PAPA","x":2650,"y":-38.0},{"s":"mu-law PAPA","x":2750,"y":-40.0},{"s":"mu-law PAPA","x":2850,"y":-39.2},{"s":"mu-law PAPA","x":2950,"y":-38.1},{"s":"mu-law PAPA","x":3050,"y":-35.7},{"s":"mu-law PAPA","x":3250,"y":-41.0},{"s":"mu-law PAPA","x":3350,"y":-39.4},{"s":"mu-law PAPA","x":3450,"y":-40.8},{"s":"mu-law PAPA","x":3550,"y":-38.0},{"s":"mu-law PAPA","x":3650,"y":-39.7},{"s":"mu-law PAPA","x":3750,"y":-38.1},{"s":"mu-law PAPA","x":3850,"y":-40.5},{"s":"mu-law PAPA","x":3950,"y":-39.0},{"s":"mu-law PAPA","x":4050,"y":-40.8},{"s":"mu-law PAPA","x":4250,"y":-38.7},{"s":"mu-law PAPA","x":4350,"y":-40.7},{"s":"mu-law PAPA","x":4450,"y":-38.6},{"s":"mu-law PAPA","x":4550,"y":-40.7},{"s":"mu-law PAPA","x":4650,"y":-38.6},{"s":"mu-law PAPA","x":4750,"y":-39.3},{"s":"mu-law PAPA","x":4850,"y":-36.1},{"s":"mu-law PAPA","x":4950,"y":-37.6},{"s":"mu-law PAPA","x":5050,"y":-37.5},{"s":"mu-law PAPA","x":5350,"y":-40.6},{"s":"mu-law PAPA","x":5450,"y":-39.5},{"s":"mu-law PAPA","x":5550,"y":-41.2},{"s":"mu-law PAPA","x":5650,"y":-38.8},{"s":"mu-law PAPA","x":5750,"y":-40.3},{"s":"mu-law PAPA","x":5850,"y":-40.4},{"s":"mu-law PAPA","x":5950,"y":-41.2},{"s":"mu-law PAPA","x":6050,"y":-38.1},{"s":"mu-law PAPA","x":6150,"y":-38.4},{"s":"mu-law PAPA","x":6240,"y":-36.1},{"s":"mu-law PAPA","x":6350,"y":-40.0},{"s":"mu-law PAPA","x":6450,"y":-38.7},{"s":"mu-law PAPA","x":6550,"y":-40.2},{"s":"mu-law PAPA","x":6650,"y":-38.8},{"s":"mu-law PAPA","x":6750,"y":-40.4},{"s":"mu-law PAPA","x":6850,"y":-37.8},{"s":"mu-law PAPA","x":6950,"y":-40.1},{"s":"mu-law PAPA","x":7050,"y":-39.1},{"s":"mu-law PAPA","x":7150,"y":-40.2},{"s":"mu-law PAPA","x":7250,"y":-38.3},{"s":"mu-law PAPA","x":7450,"y":-41.4},{"s":"mu-law PAPA","x":7550,"y":-38.1},{"s":"mu-law PAPA","x":7650,"y":-40.1},{"s":"mu-law PAPA","x":7750,"y":-38.1},{"s":"mu-law PAPA","x":7850,"y":-40.3},{"s":"mu-law PAPA","x":7950,"y":-38.8},{"s":"mu-law PAPA","x":8050,"y":-39.6},{"s":"mu-law PAPA","x":8150,"y":-38.1},{"s":"mu-law PAPA","x":8250,"y":-40.4},{"s":"mu-law PAPA","x":8350,"y":-38.6},{"s":"mu-law PAPA","x":8450,"y":-40.1},{"s":"mu-law PAPA","x":8550,"y":-38.2},{"s":"mu-law PAPA","x":8650,"y":-37.7},{"s":"mu-law PAPA","x":8750,"y":-36.5},{"s":"mu-law PAPA","x":8850,"y":-40.6},{"s":"mu-law PAPA","x":8950,"y":-38.6},{"s":"mu-law PAPA","x":9050,"y":-40.4},{"s":"mu-law PAPA","x":9150,"y":-39.1},{"s":"mu-law PAPA","x":9250,"y":-40.2},{"s":"mu-law PAPA","x":9350,"y":-38.0},{"s":"mu-law PAPA","x":9550,"y":-40.4},{"s":"mu-law PAPA","x":9650,"y":-38.9},{"s":"mu-law PAPA","x":9750,"y":-40.6},{"s":"mu-law PAPA","x":9850,"y":-38.3},

{"s":"proposed RPAPA","x":1850,"y":-34.8},{"s":"proposed RPAPA","x":1950,"y":-37.4},{"s":"proposed RPAPA","x":2150,"y":-37.1},{"s":"proposed RPAPA","x":2250,"y":-38.7},{"s":"proposed RPAPA","x":2350,"y":-36.7},{"s":"proposed RPAPA","x":2450,"y":-37.7},{"s":"proposed RPAPA","x":2550,"y":-35.0},{"s":"proposed RPAPA","x":2650,"y":-38.2},{"s":"proposed RPAPA","x":2750,"y":-36.8},{"s":"proposed RPAPA","x":2850,"y":-39.1},{"s":"proposed RPAPA","x":2950,"y":-34.6},{"s":"proposed RPAPA","x":3050,"y":-35.9},{"s":"proposed RPAPA","x":3250,"y":-37.5},{"s":"proposed RPAPA","x":3350,"y":-39.8},{"s":"proposed RPAPA","x":3450,"y":-37.1},{"s":"proposed RPAPA","x":3550,"y":-38.3},{"s":"proposed RPAPA","x":3650,"y":-36.3},{"s":"proposed RPAPA","x":3750,"y":-38.3},{"s":"proposed RPAPA","x":3850,"y":-37.2},{"s":"proposed RPAPA","x":3950,"y":-39.0},{"s":"proposed RPAPA","x":4050,"y":-37.3},{"s":"proposed RPAPA","x":4250,"y":-38.8},{"s":"proposed RPAPA","x":4350,"y":-37.0},{"s":"proposed RPAPA","x":4450,"y":-39.4},{"s":"proposed RPAPA","x":4550,"y":-37.6},{"s":"proposed RPAPA","x":4650,"y":-38.4},{"s":"proposed RPAPA","x":4750,"y":-35.9},{"s":"proposed RPAPA","x":4850,"y":-36.6},{"s":"proposed RPAPA","x":4950,"y":-34.0},{"s":"proposed RPAPA","x":5050,"y":-38.0},{"s":"proposed RPAPA","x":5150,"y":-37.4},{"s":"proposed RPAPA","x":5350,"y":-39.5},{"s":"proposed RPAPA","x":5450,"y":-37.4},{"s":"proposed RPAPA","x":5550,"y":-39.8},{"s":"proposed RPAPA","x":5650,"y":-37.5},{"s":"proposed RPAPA","x":5750,"y":-38.6},{"s":"proposed RPAPA","x":5850,"y":-38.1},{"s":"proposed RPAPA","x":5950,"y":-39.9},{"s":"proposed RPAPA","x":6050,"y":-36.5},{"s":"proposed RPAPA","x":6150,"y":-37.1},{"s":"proposed RPAPA","x":6240,"y":-34.6},{"s":"proposed RPAPA","x":6350,"y":-38.5},{"s":"proposed RPAPA","x":6450,"y":-36.8},{"s":"proposed RPAPA","x":6550,"y":-38.7},{"s":"proposed RPAPA","x":6650,"y":-37.2},{"s":"proposed RPAPA","x":6750,"y":-39.1},{"s":"proposed RPAPA","x":6850,"y":-36.2},{"s":"proposed RPAPA","x":6950,"y":-38.5},{"s":"proposed RPAPA","x":7050,"y":-37.0},{"s":"proposed RPAPA","x":7150,"y":-39.1},{"s":"proposed RPAPA","x":7250,"y":-36.8},{"s":"proposed RPAPA","x":7450,"y":-39.6},{"s":"proposed RPAPA","x":7550,"y":-36.2},{"s":"proposed RPAPA","x":7650,"y":-38.4},{"s":"proposed RPAPA","x":7750,"y":-36.8},{"s":"proposed RPAPA","x":7850,"y":-39.0},{"s":"proposed RPAPA","x":7950,"y":-36.8},{"s":"proposed RPAPA","x":8050,"y":-38.6},{"s":"proposed RPAPA","x":8150,"y":-36.1},{"s":"proposed RPAPA","x":8250,"y":-38.8},{"s":"proposed RPAPA","x":8350,"y":-37.2},{"s":"proposed RPAPA","x":8450,"y":-38.6},{"s":"proposed RPAPA","x":8550,"y":-36.4},{"s":"proposed RPAPA","x":8650,"y":-36.6},{"s":"proposed RPAPA","x":8750,"y":-34.5},{"s":"proposed RPAPA","x":8850,"y":-38.8},{"s":"proposed RPAPA","x":8950,"y":-37.1},{"s":"proposed RPAPA","x":9050,"y":-39.2},{"s":"proposed RPAPA","x":9150,"y":-36.8},{"s":"proposed RPAPA","x":9250,"y":-38.6},{"s":"proposed RPAPA","x":9350,"y":-36.6},{"s":"proposed RPAPA","x":9550,"y":-39.3},{"s":"proposed RPAPA","x":9650,"y":-37.2},{"s":"proposed RPAPA","x":9750,"y":-38.9},{"s":"proposed RPAPA","x":9850,"y":-36.8}
]
},
"layer": [
{
  "data": {"name": "d"},
  "mark": {"type": "line", "strokeWidth": 1, "clip": true},
  "encoding": {
    "x": {"field": "x", "type": "quantitative", "scale": {"domain": [0, 20050], "nice": false, "zero": false},
      "axis": {"orient": "bottom", "values": [2000,4000,6000,8000,10000,12000,14000,16000,18000,20000], "labelExpr": "format(datum.value/10000, '~g')", "labelPadding": 34, "labelBaseline": "alphabetic", "title": "Iterations", "titleX": 344, "titleY": 53, "titleBaseline": "alphabetic", "titleAnchor": null}},
    "y": {"field": "y", "type": "quantitative", "scale": {"domain": [-45, 2], "nice": false, "zero": false},
      "axis": {"orient": "left", "values": [-45,-40,-35,-30,-25,-20,-15,-10,-5,0], "labelPadding": 15, "title": "Normalized Misalignment (dB)", "titleX": -53, "titleY": 274, "titleAngle": -90, "titleBaseline": "alphabetic", "titleAlign": "center"}},
    "color": {"field": "s", "type": "nominal", "scale": {"domain": ["PAPA", "l₀ PAPA", "mu-law PAPA", "proposed RPAPA"], "range": ["#ff0000", "#00ff00", "#0000ff", "#ff00ff"]}, "legend": null}
  }
},
{
  "data": {"name": "d"},
  "transform": [{"filter": "datum.m == 1"}],
  "mark": {"type": "point", "filled": false, "strokeWidth": 1, "size": 225, "clip": true},
  "encoding": {
    "x": {"field": "x", "type": "quantitative", "scale": {"domain": [0, 20050], "nice": false, "zero": false},
      "axis": {"orient": "top", "values": [2000,4000,6000,8000,10000,12000,14000,16000,18000,20000], "labels": false, "title": null}},
    "y": {"field": "y", "type": "quantitative", "scale": {"domain": [-45, 2], "nice": false, "zero": false},
      "axis": {"orient": "right", "values": [-45,-40,-35,-30,-25,-20,-15,-10,-5,0], "labels": false, "title": null}},
    "color": {"field": "s", "type": "nominal", "scale": {"domain": ["PAPA", "l₀ PAPA", "mu-law PAPA", "proposed RPAPA"], "range": ["#ff0000", "#00ff00", "#0000ff", "#ff00ff"]}, "legend": null},
    "shape": {"field": "s", "type": "nominal", "scale": {"domain": ["PAPA", "l₀ PAPA", "mu-law PAPA", "proposed RPAPA"], "range": ["circle", "M-1.07,0L1.07,0M0,-1.07L0,1.07M-0.76,-0.76L0.76,0.76M-0.76,0.76L0.76,-0.76", "M-1.2,0L1.2,0M0,-1.2L0,1.2", "M-0.82,-0.82L0.82,-0.82L0.82,0.82L-0.82,0.82Z"]}, "legend": null}
  }
},
{
  "data": {"name": "d"},
  "transform": [{"filter": "datum.m == 1"}],
  "mark": {"type": "point", "filled": false, "strokeWidth": 1, "opacity": 0},
  "encoding": {
    "x": {"field": "x", "type": "quantitative", "scale": {"domain": [0, 20050], "nice": false, "zero": false}, "axis": null},
    "y": {"field": "y", "type": "quantitative", "scale": {"domain": [-45, 2], "nice": false, "zero": false}, "axis": null},
    "color": {"field": "s", "type": "nominal", "scale": {"domain": ["PAPA", "l₀ PAPA", "mu-law PAPA", "proposed RPAPA"], "range": ["#ff0000", "#00ff00", "#0000ff", "#ff00ff"]},
      "legend": {"title": null, "orient": "none", "legendX": 362, "legendY": 392, "strokeColor": "black", "fillColor": "white", "padding": 6, "labelFont": "Liberation Sans", "labelFontSize": 21, "labelColor": "black", "labelOffset": 11, "symbolOffset": 7, "labelLimit": 400, "rowPadding": 11, "clipHeight": 22, "symbolSize": 4356, "symbolStrokeWidth": 1, "symbolOpacity": 1, "cornerRadius": 0}},
    "shape": {"field": "s", "type": "nominal", "scale": {"domain": ["PAPA", "l₀ PAPA", "mu-law PAPA", "proposed RPAPA"], "range": [
        "M-1,0L-0.24,0M0.24,0L1,0M0.24,0C0.24,0.1325 0.1325,0.24 0,0.24C-0.1325,0.24 -0.24,0.1325 -0.24,0C-0.24,-0.1325 -0.1325,-0.24 0,-0.24C0.1325,-0.24 0.24,-0.1325 0.24,0Z",
        "M-1,0L1,0M0,-0.25L0,0.25M-0.18,-0.18L0.18,0.18M-0.18,0.18L0.18,-0.18",
        "M-1,0L1,0M0,-0.27L0,0.27",
        "M-1,0L-0.2,0M0.2,0L1,0M-0.2,-0.2L0.2,-0.2L0.2,0.2L-0.2,0.2Z"]},
      "legend": {"title": null, "orient": "none", "legendX": 362, "legendY": 392, "strokeColor": "black", "fillColor": "white", "padding": 6, "labelFont": "Liberation Sans", "labelFontSize": 21, "labelColor": "black", "labelOffset": 11, "symbolOffset": 7, "labelLimit": 400, "rowPadding": 11, "clipHeight": 22, "symbolSize": 4356, "symbolStrokeWidth": 1, "symbolOpacity": 1, "cornerRadius": 0}}
  }
},
{
  "data": {"values": [{}]},
  "mark": {"type": "text", "text": "x 10", "fontSize": 20, "font": "Liberation Sans", "color": "black", "align": "right", "baseline": "alphabetic", "dx": -9, "dy": 64},
  "encoding": {
    "x": {"datum": 20050, "type": "quantitative", "scale": {"domain": [0, 20050], "nice": false, "zero": false}, "axis": null},
    "y": {"datum": -45, "type": "quantitative", "scale": {"domain": [-45, 2], "nice": false, "zero": false}, "axis": null}
  }
},
{
  "data": {"values": [{}]},
  "mark": {"type": "text", "text": "4", "fontSize": 14, "font": "Liberation Sans", "color": "black", "align": "left", "baseline": "alphabetic", "dx": -8, "dy": 50},
  "encoding": {
    "x": {"datum": 20050, "type": "quantitative", "scale": {"domain": [0, 20050], "nice": false, "zero": false}, "axis": null},
    "y": {"datum": -45, "type": "quantitative", "scale": {"domain": [-45, 2], "nice": false, "zero": false}, "axis": null}
  }
}
],
"resolve": {"scale": {"color": "independent", "shape": "independent"}, "axis": {"x": "independent", "y": "independent"}}
}
